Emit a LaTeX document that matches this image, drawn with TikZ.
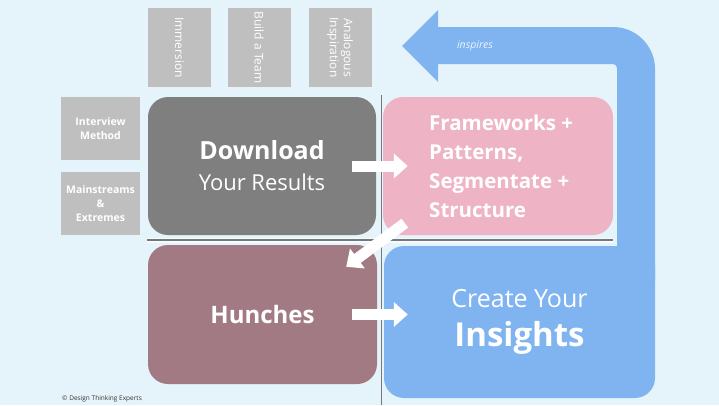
\documentclass[tikz,border=0pt]{standalone}
\usepackage{fontspec}
\setmainfont{Open Sans}
\usetikzlibrary{arrows.meta,positioning}
\definecolor{pBack}{RGB}{229,244,250}
\definecolor{pTile}{RGB}{191,191,191}
\definecolor{pDown}{RGB}{127,127,127}
\definecolor{pPink}{RGB}{238,180,198}
\definecolor{pHunch}{RGB}{162,122,132}
\definecolor{pBlue}{RGB}{128,180,240}
\definecolor{pLine}{RGB}{120,120,120}
\tikzset{
    tile/.style={rectangle, fill=pTile, inner sep=0pt, text=white, align=center},
    ttile/.style={tile, minimum width=79pt, minimum height=63pt, rotate=-90, font=\fontsize{12}{14}\selectfont},
    ltile/.style={tile, minimum width=79pt, minimum height=63pt, font=\bfseries\fontsize{10.5}{14}\selectfont},
    phase/.style={rectangle, rounded corners=20pt, inner sep=0pt, text=white, align=center},
    blockarrow/.style={white, line width=11pt, -{Triangle[width=24pt,length=14pt]}}
}

\begin{document}
\begin{tikzpicture}[x=1pt,y=-1pt]
\useasboundingbox (0,0) rectangle (719,405);
\fill[pBack] (0,0) rectangle (719,405);
% small method tiles
\node[ttile] (immersion) at (179.5,47.5) {Immersion};
\node[ttile] (team) at (259,47.5) {Build a Team};
\node[ttile] (analog) at (340,47.5) {Analogous\\Inspiration};
\node[ltile] (interview) at (100.5,128.5) {Interview\\Method};
\node[ltile] (mainstream) at (100.5,203.5) {Mainstreams\\\&\\Extremes};
% the four phases
\node[phase, fill=pDown, minimum width=228pt, minimum height=138pt, font=\fontsize{22}{31}\selectfont] (download) at (262,166) {{\bfseries\fontsize{25}{31}\selectfont Download}\\Your Results};
\node[phase, fill=pPink, minimum width=230pt, minimum height=138pt] (frame) at (498,166) {};
\node[anchor=west, text=white, align=left, inner sep=0pt, font=\bfseries\fontsize{20.5}{29}\selectfont] (frametxt) at (429,166) {Frameworks +\\Patterns,\\Segmentate +\\Structure};
\node[phase, fill=pHunch, minimum width=229pt, minimum height=139pt, font=\bfseries\fontsize{24}{30}\selectfont] (hunches) at (262.5,314.5) {Hunches};
\node[phase, fill=pBlue, minimum width=271pt, minimum height=152pt, font=\fontsize{25}{39}\selectfont] (insights) at (519.5,322) {Create Your\\{\bfseries\fontsize{33}{39}\selectfont Insights}};
% feedback band
\fill[pBlue] (402,46) -- (438,10) -- (438,27) -- (613,27) arc[start angle=90, end angle=0, radius=42pt]
    -- (655,280) -- (617,280) -- (617,68) arc[start angle=0, end angle=90, radius=4pt]
    -- (438,64) -- (438,82) -- cycle;
\node[text=white!85!pBlue, font=\itshape\fontsize{10.5}{12}\selectfont] (inspires) at (475,46) {inspires};
% axes
\draw[white, opacity=0.6, line width=5pt] (147,240) -- (613,240);
\draw[pLine, line width=2pt] (147,240) -- (613,240);
\draw[pLine, line width=0.8pt] (381,95) -- (381,405);
% arrows
\draw[blockarrow, shorten <=-24pt, shorten >=-25pt] (download.east) -- (frame.west);
\draw[blockarrow] ([shift={(22pt,12pt)}]frame.south west) -- ([shift={(-31pt,-22pt)}]hunches.north east);
\draw[blockarrow, shorten <=-25pt, shorten >=-24pt] (hunches.east) -- (hunches.east -| insights.west);
\node[anchor=west, inner sep=0pt, text=black!80, font=\fontsize{6.5}{8}\selectfont] (copy) at (62,399) {© Design Thinking Experts};
\end{tikzpicture}
\end{document}
